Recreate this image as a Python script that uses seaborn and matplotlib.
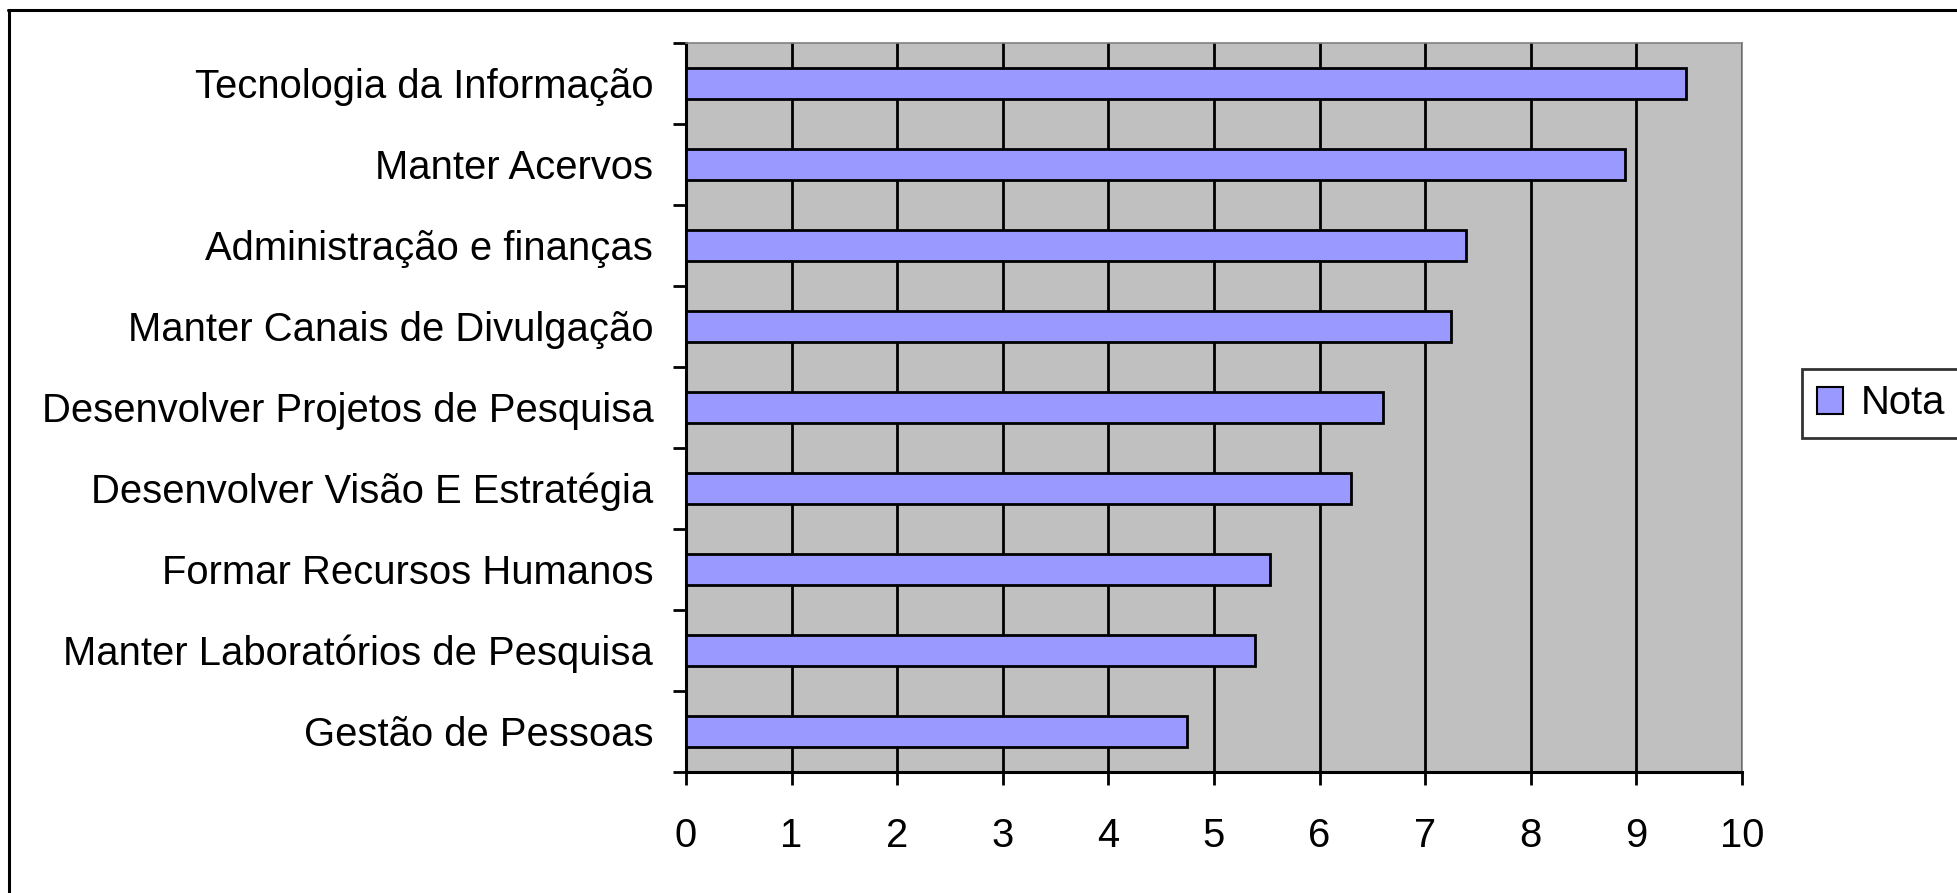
import matplotlib
matplotlib.use("Agg")
import matplotlib.pyplot as plt
from matplotlib.lines import Line2D
from matplotlib.patches import Patch
import seaborn as sns
import pandas as pd

# Scores per area, listed top to bottom
categorias = [
    "Tecnologia da Informação",
    "Manter Acervos",
    "Administração e finanças",
    "Manter Canais de Divulgação",
    "Desenvolver Projetos de Pesquisa",
    "Desenvolver Visão E Estratégia",
    "Formar Recursos Humanos",
    "Manter Laboratórios de Pesquisa",
    "Gestão de Pessoas",
]
notas = [9.47, 8.89, 7.39, 7.24, 6.60, 6.30, 5.53, 5.39, 4.74]
serie = "Nota"
x_ticks = list(range(0, 11))

df = pd.DataFrame({"Categoria": categorias, serie: notas})

sns.set_theme(style="white")
plt.rcParams["font.family"] = ["Liberation Sans", "DejaVu Sans"]
plt.rcParams["text.color"] = "black"
plt.rcParams["xtick.color"] = "black"
plt.rcParams["ytick.color"] = "black"
plt.rcParams["xtick.labelcolor"] = "black"
plt.rcParams["ytick.labelcolor"] = "black"

W, H = 1957, 893
FS = 28.8
fig = plt.figure(figsize=(W / 100, H / 100), dpi=100)
fig.patch.set_facecolor("white")
ax = fig.add_axes([686 / W, 1 - 771.7 / H, (1742 - 686) / W, (771.7 - 42.7) / H])

BAR = "#9999FF"
ax.set_facecolor("#C0C0C0")

sns.barplot(data=df, x=serie, y="Categoria", color=BAR, saturation=1,
            edgecolor="black", linewidth=2.0, width=0.38, ax=ax, zorder=3)

ax.set_xlim(0, 10)
ax.set_ylim(len(categorias) - 0.5, -0.5)
ax.set_xticks(x_ticks)
ax.set_xticklabels([str(t) for t in x_ticks])

# vertical gridlines behind the bars
ax.set_axisbelow(True)
ax.xaxis.grid(True, color="black", linewidth=2.0)
ax.yaxis.grid(False)

# category ticks sit on the boundaries between bars
ax.set_yticks([i - 0.5 for i in range(len(categorias) + 1)], minor=False)
ax.set_yticklabels([])
ax.set_yticks(range(len(categorias)), minor=True)
ax.set_yticklabels(categorias, minor=True)
ax.tick_params(axis="y", which="minor", length=0, pad=23.5, labelsize=FS,
               labelcolor="black")
ax.tick_params(axis="y", which="major", length=9.5, width=2.0, direction="out",
               color="black", left=True)
ax.tick_params(axis="x", length=9.5, width=2.0, direction="out", color="black",
               bottom=True, pad=23, labelsize=FS, labelcolor="black")
ax.set_xlabel("")
ax.set_ylabel("")

for s in ("left", "bottom"):
    ax.spines[s].set_color("black")
    ax.spines[s].set_linewidth(2.2)
for s in ("top", "right"):
    ax.spines[s].set_color("#808080")
    ax.spines[s].set_linewidth(1.2)

# legend box on the right
handle = Patch(facecolor=BAR, edgecolor="black", linewidth=1.5)
leg = fig.legend(handles=[handle], labels=[serie], loc="center left",
                 bbox_to_anchor=(1802 / W, 1 - 403.5 / H), frameon=True,
                 fontsize=FS, handlelength=0.64, handleheight=0.64,
                 handletextpad=0.45, borderpad=0.38, borderaxespad=0,
                 fancybox=False)
leg.get_frame().set_edgecolor("black")
leg.get_frame().set_linewidth(2.0)
for t in leg.get_texts():
    t.set_color("black")

# outer frame of the chart (left and top edges)
fig.add_artist(Line2D([8.5 / W, 8.5 / W], [0, 1 - 10 / H], color="black",
                      linewidth=2.2, transform=fig.transFigure))
fig.add_artist(Line2D([7.5 / W, 1], [1 - 10 / H, 1 - 10 / H], color="black",
                      linewidth=2.2, transform=fig.transFigure))

fig.savefig("out.png", dpi=100)
